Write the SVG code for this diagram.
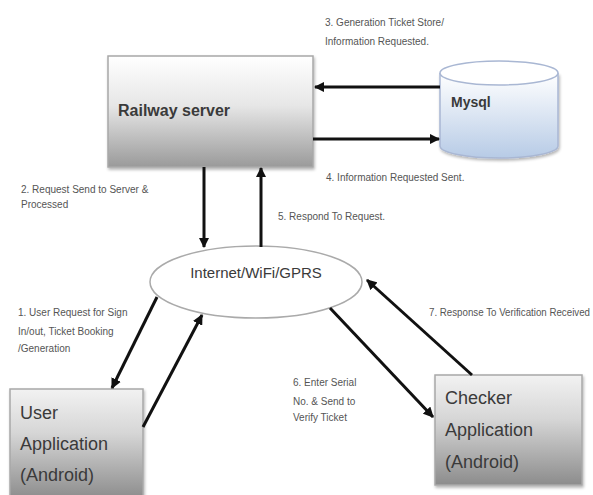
<svg xmlns="http://www.w3.org/2000/svg" width="593" height="495" viewBox="0 0 593 495">
<defs>
<linearGradient id="gBox" x1="0" y1="0" x2="0" y2="1">
<stop offset="0" stop-color="#ffffff"/>
<stop offset="0.45" stop-color="#e6e6e6"/>
<stop offset="1" stop-color="#9a9a9a"/>
</linearGradient>
<linearGradient id="gBox2" x1="0" y1="0" x2="0" y2="1">
<stop offset="0" stop-color="#f2f2f2"/>
<stop offset="0.4" stop-color="#d6d6d6"/>
<stop offset="1" stop-color="#8c8c8c"/>
</linearGradient>
<linearGradient id="gCyl" x1="0" y1="0" x2="0" y2="1">
<stop offset="0" stop-color="#ffffff"/>
<stop offset="1" stop-color="#b7cbe6"/>
</linearGradient>
<marker id="ah" viewBox="0 0 10 10" refX="9" refY="5" markerWidth="3.5" markerHeight="3.5" orient="auto" markerUnits="strokeWidth">
<path d="M0,0 L10,5 L0,10 z" fill="#111"/>
</marker>
<filter id="sh" x="-5%" y="-5%" width="115%" height="115%">
<feGaussianBlur in="SourceAlpha" stdDeviation="1.5"/>
<feOffset dx="1" dy="2"/>
<feComponentTransfer><feFuncA type="linear" slope="0.3"/></feComponentTransfer>
<feMerge><feMergeNode/><feMergeNode in="SourceGraphic"/></feMerge>
</filter>
</defs>
<style>
.box{stroke:#a8a8a8;stroke-width:1.5}
.nt{font-family:"Liberation Sans",Arial,sans-serif;fill:#3a3a3a}
.lb{font-family:"Liberation Sans",Arial,sans-serif;font-size:10px;fill:#555}
.ar{stroke:#111;stroke-width:3;fill:none;marker-end:url(#ah)}
</style>
<rect width="593" height="495" fill="#ffffff"/>

<g id="server">
<rect class="box" x="108" y="56" width="205" height="111" fill="url(#gBox)" filter="url(#sh)"/>
<text class="nt" x="118" y="116" font-size="16" font-weight="bold">Railway server</text>
</g>

<g id="mysql">
<path d="M440,73 L440,146 A59,12 0 0 0 558,146 L558,73" fill="url(#gCyl)" stroke="#a9b7d3" stroke-width="1.5" filter="url(#sh)"/>
<ellipse cx="499" cy="73" rx="59" ry="12" fill="#ffffff" stroke="#a9b7d3" stroke-width="1.5"/>
<text class="nt" x="451" y="107" font-size="14" font-weight="bold">Mysql</text>
</g>

<g id="internet">
<ellipse cx="256" cy="282" rx="106" ry="36" fill="#ffffff" stroke="#aaaaaa" stroke-width="1.5"/>
<text class="nt" x="256" y="278" font-size="15" text-anchor="middle">Internet/WiFi/GPRS</text>
</g>

<g id="user">
<rect class="box" x="10" y="389" width="133" height="110" fill="url(#gBox2)" filter="url(#sh)"/>
<text class="nt" x="20" y="419" font-size="18">User</text>
<text class="nt" x="20" y="450" font-size="18">Application</text>
<text class="nt" x="20" y="481" font-size="18">(Android)</text>
</g>

<g id="checker">
<rect class="box" x="435" y="375" width="147" height="110" fill="url(#gBox2)" filter="url(#sh)"/>
<text class="nt" x="445" y="404" font-size="18">Checker</text>
<text class="nt" x="445" y="436" font-size="18">Application</text>
<text class="nt" x="445" y="468" font-size="18">(Android)</text>
</g>

<g id="connectors">
<line class="ar" x1="440" y1="87" x2="315" y2="87"/>
<line class="ar" x1="313" y1="139" x2="439" y2="139"/>
<line class="ar" x1="204" y1="167" x2="204" y2="247"/>
<line class="ar" x1="261" y1="247" x2="261" y2="168"/>
<line class="ar" x1="157" y1="297" x2="112" y2="388"/>
<line class="ar" x1="143" y1="427" x2="202" y2="315"/>
<line class="ar" x1="330" y1="308" x2="433" y2="417"/>
<line class="ar" x1="472" y1="375" x2="367" y2="280"/>
</g>

<g id="labels">
<text class="lb" x="325" y="26">3. Generation Ticket Store/</text>
<text class="lb" x="325" y="45">Information Requested.</text>
<text class="lb" x="326" y="181">4. Information Requested Sent.</text>
<text class="lb" x="21" y="193">2. Request Send to Server &amp;</text>
<text class="lb" x="21" y="208">Processed</text>
<text class="lb" x="278" y="220">5. Respond To Request.</text>
<text class="lb" x="18" y="316">1. User Request for Sign</text>
<text class="lb" x="18" y="335">In/out, Ticket Booking</text>
<text class="lb" x="18" y="352">/Generation</text>
<text class="lb" x="429" y="316" textLength="161" lengthAdjust="spacingAndGlyphs">7. Response To Verification Received</text>
<text class="lb" x="293" y="386">6. Enter Serial</text>
<text class="lb" x="293" y="405">No. &amp; Send to</text>
<text class="lb" x="293" y="421">Verify Ticket</text>
</g>
</svg>
